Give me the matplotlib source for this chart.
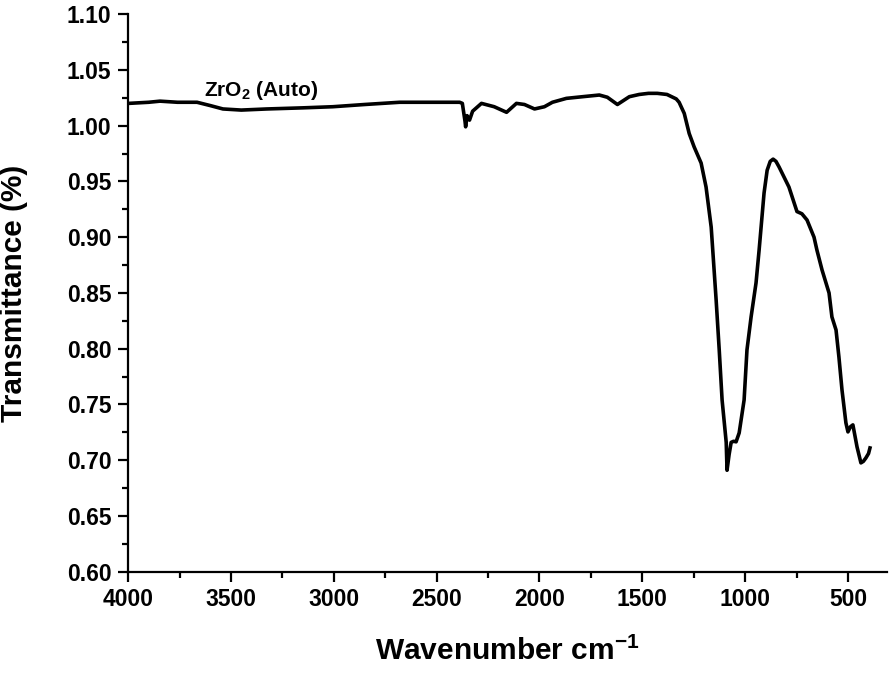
import matplotlib
matplotlib.use("Agg")
import matplotlib.pyplot as plt
from matplotlib.ticker import MultipleLocator

plt.rcParams['font.family'] = ['Liberation Sans', 'DejaVu Sans']
plt.rcParams['font.weight'] = 'bold'
plt.rcParams['mathtext.fontset'] = 'custom'
plt.rcParams['mathtext.rm'] = 'Liberation Sans:bold'
plt.rcParams['mathtext.it'] = 'Liberation Sans:bold'

# FTIR spectrum of ZrO2
wavenumber = [3998, 3900, 3845, 3760, 3665, 3600, 3539, 3450, 3325, 3150, 3005,
              2850, 2680, 2550, 2450, 2388, 2375, 2362, 2359, 2352, 2340, 2325,
              2282, 2220, 2160, 2112, 2073, 2024, 1976, 1937, 1869, 1790, 1709,
              1670, 1621, 1563, 1515, 1470, 1427, 1380, 1335, 1321, 1296, 1272,
              1248, 1214, 1190, 1165, 1141, 1126, 1112, 1092, 1088, 1078, 1068,
              1056, 1044, 1029, 1005, 991, 971, 947, 932, 908, 893, 878, 864,
              850, 835, 787, 748, 724, 699, 665, 651, 626, 592, 578, 558, 544,
              529, 510, 500, 488, 476, 456, 437, 425, 413, 400, 393]
transmittance = [1.020, 1.021, 1.022, 1.021, 1.021, 1.018, 1.015, 1.014, 1.015,
                 1.016, 1.017, 1.019, 1.021, 1.021, 1.021, 1.021, 1.020, 1.004,
                 0.999, 1.009, 1.005, 1.013, 1.020, 1.017, 1.012, 1.020, 1.019,
                 1.015, 1.017, 1.021, 1.0245, 1.026, 1.0275, 1.0255, 1.019,
                 1.026, 1.028, 1.029, 1.029, 1.028, 1.024, 1.021, 1.011, 0.993,
                 0.981, 0.9665, 0.945, 0.909, 0.8437, 0.799, 0.754, 0.716, 0.691,
                 0.705, 0.716, 0.717, 0.7165, 0.7245, 0.754, 0.799, 0.8285, 0.859,
                 0.8885, 0.9396, 0.960, 0.968, 0.970, 0.968, 0.963, 0.945, 0.923,
                 0.921, 0.9154, 0.900, 0.8885, 0.8706, 0.850, 0.8285, 0.8168,
                 0.7926, 0.763, 0.7335, 0.7254, 0.730, 0.7317, 0.712, 0.6976,
                 0.699, 0.702, 0.706, 0.711]

fig = plt.figure(figsize=(8.96, 6.75), dpi=100)
ax = fig.add_axes([0.143, 0.153, 0.847, 0.826])
ax.plot(wavenumber, transmittance, color='black', lw=2.6)

ax.set_xlim(4000, 310)
ax.set_ylim(0.60, 1.10)
ax.xaxis.set_major_locator(MultipleLocator(500))
ax.xaxis.set_minor_locator(MultipleLocator(250))
ax.yaxis.set_major_locator(MultipleLocator(0.05))
ax.yaxis.set_minor_locator(MultipleLocator(0.025))
ax.yaxis.set_major_formatter(matplotlib.ticker.FormatStrFormatter('%.2f'))

for s in ['top', 'right']:
    ax.spines[s].set_visible(False)
for s in ['left', 'bottom']:
    ax.spines[s].set_linewidth(1.6)
ax.tick_params(which='major', direction='out', length=7, width=1.6, labelsize=16.5, pad=5)
ax.tick_params(which='minor', direction='out', length=4, width=1.6)
for lab in ax.get_xticklabels() + ax.get_yticklabels():
    lab.set_fontweight('bold')

ax.set_xlabel('Wavenumber cm$^{-1}$', fontsize=21.5, fontweight='bold', labelpad=18)
ax.set_ylabel('Transmittance (%)', fontsize=21.5, fontweight='bold', labelpad=28)
ax.text(3630, 1.027, 'ZrO$_2$ (Auto)', fontsize=15, fontweight='bold')

fig.savefig('out.png', dpi=100)
